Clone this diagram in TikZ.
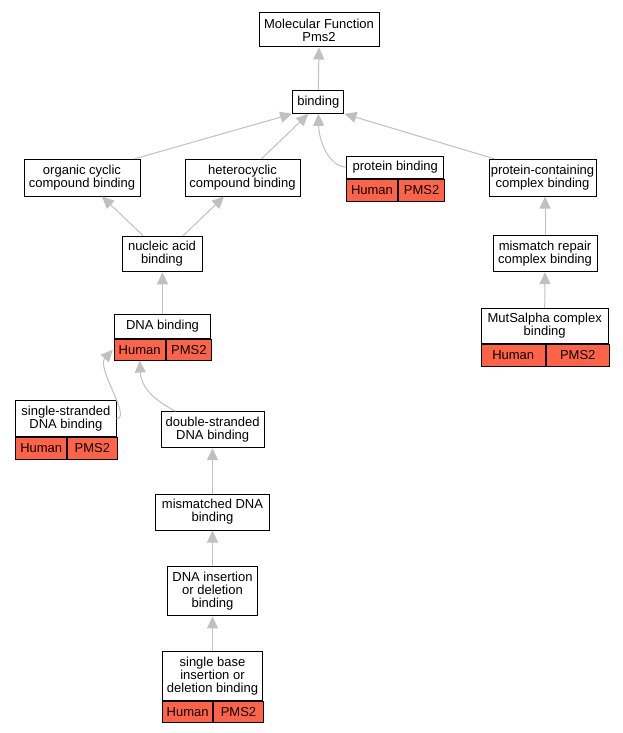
\documentclass[tikz,border=0pt]{standalone}
\usepackage{fontspec}
\setmainfont{Liberation Sans}
\usetikzlibrary{arrows.meta,calc}
\definecolor{cellred}{RGB}{255,99,71}
\definecolor{edgegray}{RGB}{192,192,192}
\begin{document}
\begin{tikzpicture}[x=1pt,y=-1pt,
  box/.style={draw=black, line width=1pt, fill=white, inner sep=0pt, align=center,
    font={\fontsize{13pt}{12.8pt}\selectfont}},
  cell/.style={draw=black, line width=1pt, fill=cellred, inner sep=0pt, anchor=north west,
    font={\fontsize{13pt}{12.8pt}\selectfont}},
  edge/.style={draw=edgegray, line width=1pt, -{Triangle[width=11pt,length=12pt]}}]
\useasboundingbox (0,0) rectangle (623,733);
% nodes
\node[box, minimum width=120, minimum height=34] (mf) at (319,30) {Molecular Function\\Pms2};
\node[box, minimum width=51.3, minimum height=23.3] (bind) at (318.3,101.7) {binding};
\node[box, minimum width=116, minimum height=36.7] (org) at (82,177.7) {organic cyclic\\compound binding};
\node[box, minimum width=115, minimum height=36.7] (het) at (242.5,177.7) {heterocyclic\\compound binding};
\node[box, minimum width=97.3, minimum height=22.3] (pb) at (395.3,167.2) {protein binding};
\node[cell, minimum width=50.6, minimum height=21.7] (pbh) at (pb.south west) {Human};
\node[cell, minimum width=46.7, minimum height=21.7] (pbp) at (pbh.north east) {PMS2};
\node[box, minimum width=107, minimum height=36.7] (pc) at (542.5,177.7) {protein-containing\\complex binding};
\node[box, minimum width=80, minimum height=35.6] (nuc) at (162,254) {nucleic acid\\binding};
\node[box, minimum width=104, minimum height=36] (mr) at (545,253.7) {mismatch repair\\complex binding};
\node[box, minimum width=127, minimum height=35] (ms) at (544.7,325.8) {MutSalpha complex\\binding};
\node[cell, minimum width=64, minimum height=21.7] (msh) at (ms.south west) {Human};
\node[cell, minimum width=63, minimum height=21.7] (msp) at (msh.north east) {PMS2};
\node[box, minimum width=96.3, minimum height=24.3] (dna) at (162.5,326.2) {DNA binding};
\node[cell, minimum width=50.7, minimum height=20.7] (dnah) at (dna.south west) {Human};
\node[cell, minimum width=45.6, minimum height=20.7] (dnap) at (dnah.north east) {PMS2};
\node[box, minimum width=100.3, minimum height=36] (ss) at (65.9,418.7) {single-stranded\\DNA binding};
\node[cell, minimum width=51, minimum height=21.6] (ssh) at (ss.south west) {Human};
\node[cell, minimum width=49.3, minimum height=21.6] (ssp) at (ssh.north east) {PMS2};
\node[box, minimum width=103.3, minimum height=36] (ds) at (212.7,429.7) {double-stranded\\DNA binding};
\node[box, minimum width=114.3, minimum height=36] (mmd) at (212.5,512) {mismatched DNA\\binding};
\node[box, minimum width=90, minimum height=49.3] (ins) at (212.5,591.3) {DNA insertion\\or deletion\\binding};
\node[box, minimum width=99.7, minimum height=49] (sb) at (212.5,676.2) {single base\\insertion or\\deletion binding};
\node[cell, minimum width=50, minimum height=21] (sbh) at (sb.south west) {Human};
\node[cell, minimum width=49.7, minimum height=21] (sbp) at (sbh.north east) {PMS2};
% edges
\draw[edge] (bind.north) -- (mf.south);
\draw[edge] ([xshift=-6pt]org.north east) -- (bind.south west);
\draw[edge] ([xshift=19pt]het.north) -- ([xshift=-10pt]bind.south);
\draw[edge] (pb.west) .. controls (328,166) and (319,140) .. (bind.south);
\draw[edge] ([xshift=6pt]pc.north west) -- (bind.south east);
\draw[edge] ([xshift=21.6pt]nuc.north west) -- ([xshift=20pt]org.south);
\draw[edge] ([xshift=-19.4pt]nuc.north east) -- ([xshift=-18.5pt]het.south);
\draw[edge] (dna.north) -- (dna.north |- nuc.south);
\draw[edge] (ss.east) .. controls (132,418) and (96,368) .. ([xshift=-1pt]dnah.west);
\draw[edge] ([xshift=15pt]ds.north west) .. controls (150,398) and (141,385) .. (dnah.south);
\draw[edge] (mmd.north) -- (mmd.north |- ds.south);
\draw[edge] (ins.north) -- (mmd.south);
\draw[edge] (sb.north) -- (ins.south);
\draw[edge] (mr.north) -- (mr.north |- pc.south);
\draw[edge] (ms.north) -- (mr.south);
\end{tikzpicture}
\end{document}
